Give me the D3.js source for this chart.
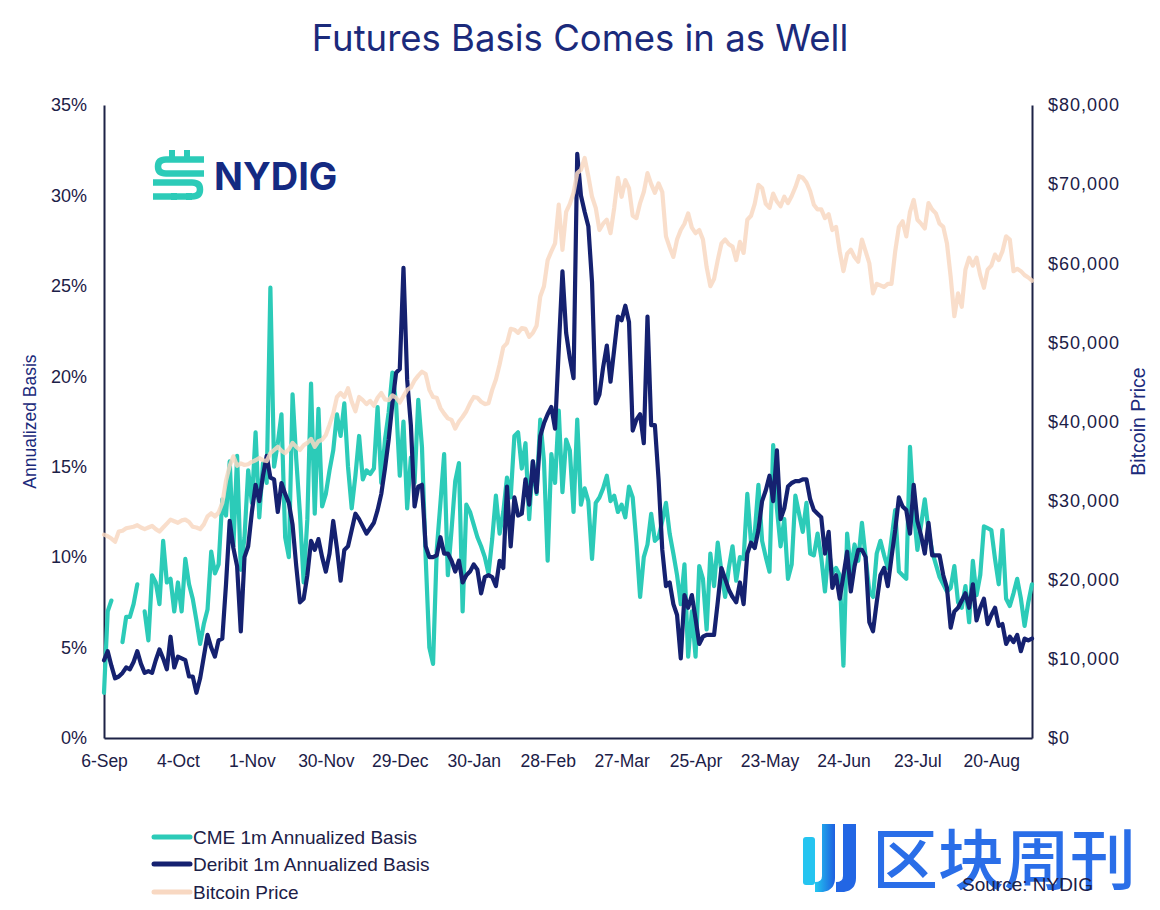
<!DOCTYPE html>
<html>
<head>
<meta charset="utf-8">
<script src="https://cdn.jsdelivr.net/npm/d3@7"></script>
<style>
  html, body { margin: 0; padding: 0; background: #ffffff; }
  svg { display: block; }
</style>
</head>
<body>
<svg id="chart" width="1160" height="910"></svg>
<script>
// ---------------- DATA ----------------
const tickIndex = [0, 20, 40, 60, 80, 100, 120, 140, 160, 180, 200, 220, 240];
const tickLabels = ["6-Sep", "4-Oct", "1-Nov", "30-Nov", "29-Dec", "30-Jan", "28-Feb", "27-Mar", "25-Apr", "23-May", "24-Jun", "23-Jul", "20-Aug"];
const leftTicks = [0, 5, 10, 15, 20, 25, 30, 35];
const rightTicks = [0, 10000, 20000, 30000, 40000, 50000, 60000, 70000, 80000];
const seriesNames = ["CME 1m Annualized Basis", "Deribit 1m Annualized Basis", "Bitcoin Price"];

// CME 1m annualized basis (%), one value per trading day (null = no data)
const cme = [
  2.5, 7.0, 7.6, null, null, 5.3, 6.7, 6.7, 7.4, 8.5,
  null, 7.0, 5.4, 9.0, 8.6, 7.4, 10.9, 8.6, 8.8, 7.0,
  8.6, 7.0, 9.9, 8.5, 7.7, 6.5, 5.2, 6.3, 7.1, 10.3,
  9.1, 9.6, 13.2, 12.3, 15.3, 10.6, 15.6, 9.3, 11.1, 14.8,
  13.0, 16.9, 12.2, 15.2, 14.1, 24.9, 15.0, 16.3, 17.9, 11.1,
  10.0, 19.0, 15.4, 12.4, 8.6, 12.1, 19.6, 12.4, 18.2, 12.8,
  13.5, 14.8, 15.9, 17.9, 16.7, 18.5, 15.0, 12.7, 14.5, 16.7,
  14.3, 14.8, 14.6, 14.9, 18.3, 14.1, 16.5, 18.0, 20.2, 18.5,
  14.5, 17.5, 12.7, 15.5, 14.1, 18.7, 16.1, 10.0, 5.0, 4.1,
  10.4, 13.0, 15.7, 9.0, 11.5, 14.2, 15.2, 7.0, 12.9, 12.5,
  11.8, 11.1, 10.6, 10.0, 9.1, 11.0, 13.4, 11.3, 12.5, 14.4,
  13.3, 16.7, 16.9, 14.9, 16.3, 12.1, 15.3, 13.5, 17.6, 15.3,
  9.8, 15.7, 14.1, 18.1, 13.6, 16.5, 15.9, 12.5, 17.6, 12.9,
  13.8, 13.1, 9.9, 13.0, 13.3, 13.8, 14.5, 13.1, 13.4, 12.5,
  12.9, 12.2, 13.9, 13.3, 10.8, 7.8, 10.0, 10.7, 12.4, 10.9,
  11.1, 12.0, 13.0, 11.3, 10.2, 9.0, 7.4, 9.6, 4.5, 7.0,
  4.5, 9.5, 8.8, 6.0, 10.2, 8.4, 10.8, 9.2, 7.8, 9.4,
  10.6, 8.7, 10.0, 9.9, 13.5, 10.8, 11.3, 14.0, 10.9, 10.0,
  9.2, 16.2, 12.7, 10.6, 12.1, 8.8, 9.6, 13.4, 12.4, 11.4,
  13.0, 10.2, 10.1, 11.3, 10.0, 8.1, 10.4, 9.1, 9.4, 9.0,
  4.0, 11.3, 9.2, 10.7, 9.8, 11.9, 10.0, 8.1, 7.8, 10.2,
  10.9, 10.1, 9.4, 11.0, 12.6, 9.2, 9.0, 8.8, 16.1, 12.6,
  10.4, 11.8, 13.2, 11.5, 10.3, 9.6, 8.9, 8.5, 8.1, 8.3,
  9.5, 7.5, 7.2, 8.4, 6.4, 9.8, 7.9, 9.0, 11.7, 11.6,
  11.5, 9.9, 8.5, 11.5, 7.7, 7.3, 8.0, 8.8, 7.7, 6.2,
  7.5, 8.5
];

// Deribit 1m annualized basis (%)
const deribit = [
  4.3, 4.8, 4.0, 3.3, 3.4, 3.6, 3.9, 3.8, 4.2, 4.8,
  4.1, 3.6, 3.7, 3.6, 4.3, 4.9, 4.4, 3.8, 5.6, 3.9,
  4.5, 4.4, 4.3, 3.4, 3.4, 2.5, 3.3, 4.5, 5.7, 5.0,
  4.5, 5.4, 5.5, 8.5, 12.0, 10.5, 9.5, 5.9, 10.0, 10.6,
  12.5, 14.0, 13.1, 14.5, 15.6, 14.4, 14.3, 12.5, 14.1, 13.5,
  13.0, 11.8, 9.5, 7.5, 7.7, 9.0, 10.9, 10.4, 11.0, 10.0,
  9.2, 10.2, 12.0, 10.5, 8.7, 10.4, 10.6, 11.5, 12.4, 12.1,
  11.7, 11.3, 11.6, 11.9, 12.6, 13.5, 14.9, 16.5, 18.5, 20.2,
  20.4, 26.0, 19.8, 17.3, 12.8, 13.9, 14.0, 10.6, 10.0, 10.0,
  10.1, 11.1, 10.2, 10.2, 9.8, 9.2, 9.8, 8.6, 9.0, 9.2,
  9.6, 9.3, 8.0, 8.9, 9.0, 8.9, 8.4, 9.8, 9.4, 13.9,
  10.6, 13.3, 12.3, 12.4, 14.3, 12.9, 15.3, 13.6, 16.7, 17.4,
  17.9, 18.3, 17.1, 21.5, 25.8, 22.4, 21.0, 19.9, 32.3, 30.0,
  29.1, 28.3, 25.2, 18.5, 19.0, 20.5, 21.7, 19.7, 21.5, 23.3,
  23.1, 23.9, 23.0, 17.0, 17.6, 17.9, 16.3, 23.3, 17.3, 17.3,
  14.3, 10.4, 8.4, 8.6, 7.4, 6.8, 4.4, 7.9, 7.2, 7.9,
  6.6, 5.2, 5.6, 5.7, 5.7, 5.7, 7.5, 9.4, 8.8, 8.2,
  7.8, 7.5, 8.6, 7.4, 10.2, 10.8, 10.5, 11.5, 13.1, 13.7,
  14.5, 13.1, 15.9, 12.1, 12.7, 13.9, 14.1, 14.2, 14.2, 14.3,
  14.3, 13.2, 12.6, 12.4, 12.2, 10.2, 11.4, 8.3, 9.0, 7.7,
  9.0, 10.3, 8.1, 9.5, 10.4, 10.4, 10.0, 6.4, 5.9, 7.5,
  9.0, 9.4, 8.4, 10.0, 11.5, 13.3, 12.8, 12.6, 11.3, 14.0,
  12.0, 11.2, 10.2, 11.9, 10.1, 10.1, 10.1, 9.0, 8.3, 6.1,
  7.0, 7.2, 7.6, 8.0, 7.2, 8.5, 6.5, 7.2, 7.7, 6.3,
  6.8, 7.2, 6.2, 6.3, 5.2, 5.6, 5.3, 5.7, 4.8, 5.5,
  5.4, 5.5
];

// Bitcoin price (USD)
const btc = [
  25700, 25500, 25200, 24800, 26100, 26200, 26500, 26600, 26700, 26900,
  26600, 26400, 26600, 26800, 26400, 26100, 26600, 27100, 27600, 27400,
  27200, 27500, 27600, 27300, 26700, 26600, 26400, 27000, 28000, 28400,
  28000, 28500, 29700, 32500, 34400, 35600, 34400, 34700, 34500, 34600,
  34900, 35100, 35400, 35100, 35000, 36000, 36400, 36800, 36300, 36000,
  36500, 37300, 36800, 36400, 37000, 37300, 37800, 36800, 37500, 37700,
  38300, 39600, 41000, 43100, 43600, 43100, 44200, 42500, 41300, 43100,
  42700, 42200, 42600, 42000, 43000, 43600, 42800, 42700, 43300, 43000,
  42400, 43200, 44000, 44300, 45200, 45800, 46300, 46000, 44000, 43100,
  43000, 41700, 41000, 40400, 40200, 39100, 40000, 40600, 41300, 42300,
  43100, 43000, 42500, 42200, 42300, 44000, 45300, 47200, 49400, 49900,
  51700, 51600, 51200, 51800, 51700, 50700, 51200, 52100, 55800, 57100,
  60400, 61500, 62500, 67400, 61700, 66500, 67500, 68900, 71400, 71800,
  73300, 71000, 68400, 67000, 64200, 65000, 65500, 63800, 67000, 70800,
  68400, 70500, 69500, 66000, 65700, 67600, 69000, 71400, 70000, 68900,
  70100, 69000, 63400, 62000, 60800, 63000, 64200, 65000, 66300, 64500,
  63800, 64200, 63000, 59500, 57100, 58000, 60400, 62500, 63000, 62400,
  62100, 60400, 62700, 61300, 65500, 66000, 67500, 69900, 69500, 67500,
  67000, 68800, 67800, 67200, 68400, 67600, 68500, 69600, 71000, 70800,
  70200, 69100, 67400, 66800, 66800, 65700, 66200, 64200, 64600, 61500,
  59000, 61200, 61700, 60800, 60200, 63000, 61500, 60000, 56200, 57400,
  57200, 57000, 57400, 57400, 61500, 64600, 65300, 63400, 66500, 68000,
  65500, 65000, 64400, 67600, 66800, 66300, 65000, 64600, 62500, 58300,
  53300, 56200, 54500, 59200, 60700, 59700, 60700, 58500, 56900, 59200,
  59700, 61100, 60400, 61500, 63400, 63000, 59000, 59300, 59000, 58500,
  58200, 57800
];

// ---------------- CHART ----------------
const svg = d3.select("#chart");
const W = 1160, H = 910;
const plot = { left: 104, right: 1032, top: 105, bottom: 738 };

const navy = "#152170";
const teal = "#2ccbb8";
const peach = "#f8d8c2";
const textColor = "#1c2047";
const fontAxis = "'Liberation Sans', Arial, sans-serif";

svg.append("rect").attr("width", W).attr("height", H).attr("fill", "#ffffff");

const x = d3.scaleLinear().domain([0, btc.length - 1]).range([plot.left, plot.right]);
const yL = d3.scaleLinear().domain([0, 35]).range([plot.bottom, plot.top]);
const yR = d3.scaleLinear().domain([0, 80000]).range([plot.bottom, plot.top]);

// Title
svg.append("text")
  .attr("x", 580).attr("y", 51)
  .attr("text-anchor", "middle")
  .attr("font-family", "Inter, 'Open Sans', sans-serif")
  .attr("font-size", 36.5)
  .attr("fill", "#1b2a7b")
  .text("Futures Basis Comes in as Well");

// Left axis
const gL = svg.append("g").attr("transform", `translate(${plot.left},0)`)
  .call(d3.axisLeft(yL).tickValues(leftTicks).tickSize(0).tickPadding(17).tickFormat(d => d + "%"));
// Right axis
const gR = svg.append("g").attr("transform", `translate(${plot.right},0)`)
  .call(d3.axisRight(yR).tickValues(rightTicks).tickSize(0).tickPadding(16).tickFormat(d => "$" + d3.format(",")(d)));
// Bottom axis
const gB = svg.append("g").attr("transform", `translate(0,${plot.bottom})`)
  .call(d3.axisBottom(x).tickValues(tickIndex).tickSize(0).tickPadding(17).tickFormat((d, i) => tickLabels[i]));

[gL, gR, gB].forEach(g => {
  g.select(".domain").attr("stroke", "#1d2246").attr("stroke-width", 2);
  g.selectAll("text").attr("font-family", fontAxis).attr("fill", textColor);
});
gL.selectAll("text").attr("font-size", 18);
gR.selectAll("text").attr("font-size", 18).attr("letter-spacing", 1);
gB.selectAll("text").attr("font-size", 17.5);

// Axis titles
svg.append("text")
  .attr("transform", `translate(36,${(plot.top + plot.bottom) / 2}) rotate(-90)`)
  .attr("text-anchor", "middle")
  .attr("font-family", fontAxis).attr("font-size", 17.5).attr("fill", "#1b2a7b")
  .text("Annualized Basis");
svg.append("text")
  .attr("transform", `translate(1145,${(plot.top + plot.bottom) / 2}) rotate(-90)`)
  .attr("text-anchor", "middle")
  .attr("font-family", fontAxis).attr("font-size", 19.5).attr("fill", "#1b2a7b")
  .text("Bitcoin Price");

// Lines
const lineL = d3.line().defined(d => d != null).x((d, i) => x(i)).y(d => yL(d)).curve(d3.curveLinear);
const lineR = d3.line().x((d, i) => x(i)).y(d => yR(d)).curve(d3.curveLinear);

svg.append("path").datum(cme)
  .attr("d", lineL).attr("fill", "none").attr("stroke", teal)
  .attr("stroke-width", 4.2).attr("stroke-linejoin", "round").attr("stroke-linecap", "round");
svg.append("path").datum(deribit)
  .attr("d", lineL).attr("fill", "none").attr("stroke", navy)
  .attr("stroke-width", 4.2).attr("stroke-linejoin", "round").attr("stroke-linecap", "round");
svg.append("path").datum(btc)
  .attr("d", lineR).attr("fill", "none").attr("stroke", peach).attr("stroke-opacity", 0.85)
  .attr("stroke-width", 4.2).attr("stroke-linejoin", "round").attr("stroke-linecap", "round");

// NYDIG logo
const logo = svg.append("g");
logo.append("path").attr("d", "M204,159.5 H166 Q158,159.5 158,166.5 Q158,173.5 166,173.5 H204")
  .attr("stroke", teal).attr("stroke-width", 6.5).attr("fill", "none");
logo.append("path").attr("d", "M153,182.5 H192 Q200,182.5 200,189.5 Q200,196.5 192,196.5 H153")
  .attr("stroke", teal).attr("stroke-width", 6.5).attr("fill", "none");
[[169, 150], [184, 150], [171, 193], [186, 193]].forEach(p => {
  logo.append("rect").attr("x", p[0]).attr("y", p[1]).attr("width", 6).attr("height", 7).attr("fill", teal);
});
logo.append("text").attr("x", 214).attr("y", 190)
  .attr("font-family", "Inter, 'Liberation Sans', sans-serif").attr("font-weight", 700)
  .attr("font-size", 38).attr("fill", "#142a82")
  .text("NYDIG");

// Legend
const legendColors = [teal, navy, peach];
const legendY = [837, 864, 892];
seriesNames.forEach((name, i) => {
  svg.append("line").attr("x1", 154).attr("x2", 190).attr("y1", legendY[i]).attr("y2", legendY[i])
    .attr("stroke", legendColors[i]).attr("stroke-width", 5).attr("stroke-linecap", "round");
  svg.append("text").attr("x", 193).attr("y", legendY[i]).attr("dy", "0.35em")
    .attr("font-family", fontAxis).attr("font-size", 19).attr("fill", textColor)
    .text(name);
});

// Watermark
const defs = svg.append("defs");
const grad = defs.append("linearGradient").attr("id", "wm").attr("x1", "0").attr("x2", "1").attr("y1", "0").attr("y2", "0");
grad.append("stop").attr("offset", "0%").attr("stop-color", "#22c8f0");
grad.append("stop").attr("offset", "100%").attr("stop-color", "#1e5fe0");
const wm = svg.append("g");
wm.append("rect").attr("x", 803).attr("y", 837).attr("width", 12).attr("height", 48).attr("rx", 3).attr("fill", "#25c4f0");
wm.append("path").attr("d", "M822,824 h13 v54 q0,12 -12,14 h-8 v-10 q7,0 7,-6 z").attr("fill", "url(#wm)");
wm.append("path").attr("d", "M843,824 h13 v54 q0,12 -12,14 h-8 v-10 q7,0 7,-6 z").attr("fill", "#2266e4");
wm.append("text").attr("x", 872).attr("y", 884)
  .attr("font-family", "'Noto Sans CJK SC', sans-serif").attr("font-size", 66)
  .attr("fill", "#2a6ee8").attr("font-weight", 500)
  .text("区块周刊");

// Source
svg.append("text").attr("x", 962).attr("y", 891)
  .attr("font-family", fontAxis).attr("font-size", 19).attr("fill", textColor)
  .text("Source: NYDIG");
</script>
</body>
</html>
